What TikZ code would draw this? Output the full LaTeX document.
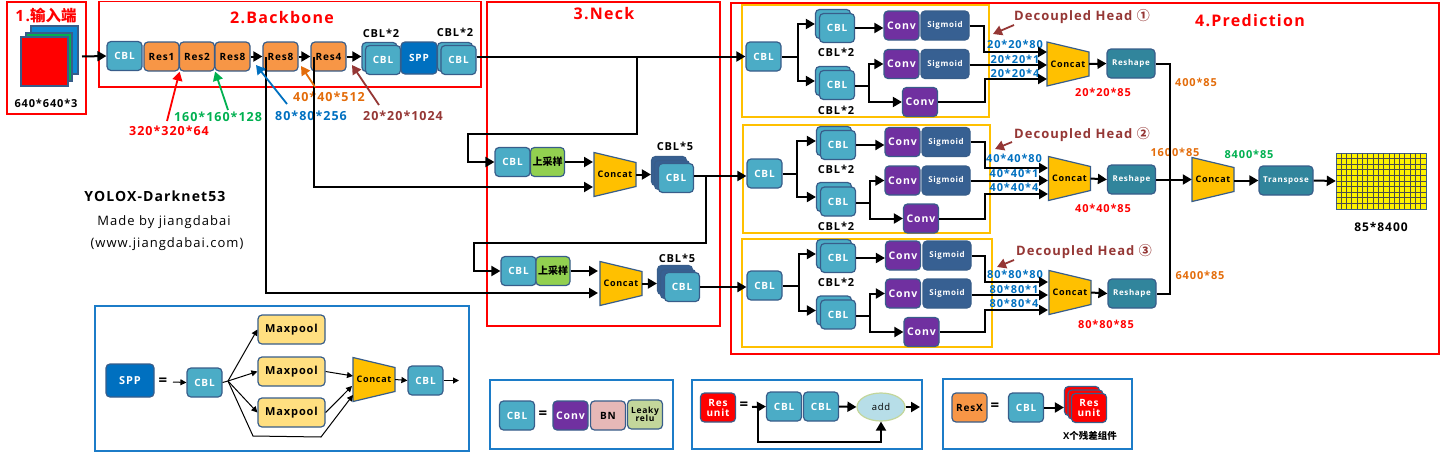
\documentclass[tikz,border=0pt]{standalone}
\usepackage{fontspec}
\setmainfont{Open Sans}[LetterSpace=8]
\newfontfamily\cjk{Noto Sans CJK SC}
\usetikzlibrary{shapes,arrows.meta}
\definecolor{edge}{HTML}{385D8A}
\definecolor{cblblue}{HTML}{4BACC6}
\definecolor{resorange}{HTML}{F79646}
\definecolor{sppblue}{HTML}{0070C0}
\definecolor{convpurple}{HTML}{7030A0}
\definecolor{sigblue}{HTML}{376092}
\definecolor{shapeteal}{HTML}{31859C}
\definecolor{upgreen}{HTML}{92D050}
\definecolor{concatgold}{HTML}{FFC000}
\definecolor{poolyellow}{HTML}{FFDF80}
\definecolor{bnpink}{HTML}{E6B8B7}
\definecolor{leakygreen}{HTML}{C3D69B}
\definecolor{addblue}{HTML}{B7DEE8}
\definecolor{brownred}{HTML}{953735}
\definecolor{tagorange}{HTML}{E36C0A}
\definecolor{taggreen}{HTML}{00B050}
\definecolor{frameblue}{HTML}{1C7CC8}
\newcommand{\sz}[1]{\bfseries\fontsize{#1}{#1}\selectfont}
\tikzstyle{block} = [rectangle, draw=edge, line width=1.2pt, rounded corners=4pt, minimum width=35pt,
    minimum height=29pt, inner sep=0pt, align=center, font=\sz{10}]
\tikzstyle{cbl} = [block, fill=cblblue, text=white]
\tikzstyle{res} = [block, fill=resorange]
\tikzstyle{conv} = [block, fill=convpurple, text=white, font=\sz{10.5}]
\tikzstyle{sigmoid} = [block, fill=sigblue, text=white, minimum width=48pt, font=\sz{8}]
\tikzstyle{reshape} = [block, fill=shapeteal, text=white, minimum width=48pt, font=\sz{8}]
\tikzstyle{upsample} = [block, fill=upgreen, minimum width=34pt, font=\sz{10}\cjk]
\tikzstyle{maxpool} = [block, fill=poolyellow, minimum width=67pt, font=\sz{11}]
\tikzstyle{square} = [rectangle, draw=edge, line width=1.2pt, inner sep=0pt]
\tikzstyle{concat} = [rectangle, minimum width=42pt, minimum height=44pt, inner sep=0pt, font=\sz{9}]
\tikzstyle{note} = [inner sep=0pt, font=\sz{11}]
\tikzstyle{bignote} = [inner sep=0pt, font=\sz{12.5}]
\tikzstyle{title} = [inner sep=0pt, text=red, font=\sz{16}]
\tikzstyle{head} = [inner sep=0pt, text=brownred, font=\sz{13}]
\tikzstyle{line} = [draw, line width=2pt, >={Triangle[length=9pt,width=10pt]}]
\tikzstyle{thinline} = [draw, line width=1pt, >={Triangle[length=6pt,width=6pt]}]
\tikzstyle{tag} = [draw, line width=1.8pt, >={Triangle[length=9pt,width=10pt]}]
\tikzstyle{redframe} = [draw=red, line width=1.6pt]
\tikzstyle{goldframe} = [draw=concatgold, line width=1.6pt]
\tikzstyle{blueframe} = [draw=frameblue, line width=1.6pt]
% Concat body with its node on top
\newcommand{\concatat}[2]{
    \path [fill=concatgold, draw=edge, line width=1.2pt] (#1) ++(-21,-22) -- ++(42,10) -- ++(0,24) -- ++(-42,10) -- cycle;
    \node [concat] at (#1) (#2) {Concat};
}
\begin{document}
\begin{tikzpicture}[x=1pt, y=-1pt]
    \useasboundingbox (0,0) rectangle (1440,458);
    % Frames
    \draw [redframe] (7,2) rectangle (86,114);
    \draw [redframe] (99,1.5) rectangle (481,87);
    \draw [redframe] (487,2) rectangle (720,326);
    \draw [redframe] (731,3) rectangle (1439,354);
    \draw [goldframe] (742,5) rectangle (989,117);
    \draw [goldframe] (743,125) rectangle (990,233);
    \draw [goldframe] (742,239) rectangle (992,347);
    \draw [blueframe] (95,306) rectangle (469,451);
    \draw [blueframe] (490,380) rectangle (673,449);
    \draw [blueframe] (692,380) rectangle (922,449);
    \draw [blueframe] (943,379) rectangle (1132,449);
    % Input
    \node [square, fill=cyan!70!blue, minimum width=47pt, minimum height=48pt] at (54.5,50) (inBlue) {};
    \node [square, fill=taggreen, minimum width=46pt, minimum height=48pt] at (49,57) (inGreen) {};
    \node [square, fill=red, minimum width=47pt, minimum height=49pt] at (44.5,61.5) (inRed) {};
    \node [title, font=\sz{15.5}] at (46,16) (inTitle) {1.{\cjk 输入端}};
    \node [note] at (46,103) (inSize) {640*640*3};
    \coordinate (inOut) at (82,56.5);
    % Backbone
    \node [title] at (282,18) (bbTitle) {2.Backbone};
    \node [cbl] at (124.5,56) (bbCbl) {CBL};
    \node [res] at (161.5,56.5) (resA) {Res1};
    \node [res] at (197,56.5) (resB) {Res2};
    \node [res] at (232.5,56.5) (resC) {Res8};
    \node [res] at (280.5,56.5) (resD) {Res8};
    \node [res] at (328.5,56.5) (resE) {Res4};
    \node [cbl] at (379.5,57) (bbStackBack) {};
    \node [cbl] at (383,60) (bbStack) {CBL};
    \node [block, fill=sppblue, text=white, minimum width=36pt, minimum height=32pt] at (419,58) (bbSpp) {SPP};
    \node [cbl] at (455,57) (bbTailBack) {};
    \node [cbl] at (458.5,60) (bbTail) {CBL};
    \node [note] at (381,33) (bbStackLabel) {CBL*2};
    \node [note] at (455,32) (bbTailLabel) {CBL*2};
    \node [bignote, text=red] at (169,131) (size320) {320*320*64};
    \node [bignote, text=taggreen] at (218,117) (size160) {160*160*128};
    \node [bignote, text=sppblue] at (311,116) (size80) {80*80*256};
    \node [bignote, text=tagorange] at (329,97) (size40) {40*40*512};
    \node [bignote, text=brownred] at (403,116) (size20) {20*20*1024};
    \coordinate (tail320) at (167,121);
    \coordinate (tail160) at (228,110);
    \coordinate (tail80) at (287,104);
    \coordinate (tip80) at (256,65);
    \coordinate (tail40) at (315,87);
    \coordinate (tip40) at (301,66);
    \coordinate (tail20) at (379,105);
    \coordinate (tip20) at (352,65);
    \coordinate (skipA) at (266,57);
    \coordinate (skipB) at (314,57);
    % Neck
    \node [title] at (604,14) (neckTitle) {3.Neck};
    \node [cbl] at (512.5,162) (neckCblA) {CBL};
    \node [upsample] at (547.5,162) (neckUpA) {上采样};
    \concatat{615,174.5}{neckConcatA}
    \node [cbl, fill=sigblue] at (669,171) (neckStackAback) {};
    \node [cbl, fill=sigblue] at (672,175) (neckStackAmid) {};
    \node [cbl] at (676,178) (neckStackA) {CBL};
    \node [note] at (675,146) (neckStackAlabel) {CBL*5};
    \node [cbl] at (518.5,271) (neckCblB) {CBL};
    \node [upsample] at (553,271) (neckUpB) {上采样};
    \concatat{621,283.5}{neckConcatB}
    \node [cbl, fill=sigblue] at (675,280) (neckStackBback) {};
    \node [cbl, fill=sigblue] at (678,284) (neckStackBmid) {};
    \node [cbl] at (682,287) (neckStackB) {CBL};
    \node [note] at (677,258) (neckStackBlabel) {CBL*5};
    \coordinate (upA) at (637,57);
    \coordinate (upB) at (468,134);
    \coordinate (upC) at (706,176);
    \coordinate (upD) at (474,243);
    \coordinate (inA) at (593,187);
    \coordinate (inB) at (598,293);
    % Head one
    \node [cbl] at (763.5,56.5) (aCbl) {CBL};
    \node [cbl] at (833,24) (aTopBack) {};
    \node [cbl] at (837,28) (aTop) {CBL};
    \node [cbl] at (833,81) (aLowBack) {};
    \node [cbl] at (837,85) (aLow) {CBL};
    \node [note] at (836,52) (aTopLabel) {CBL*2};
    \node [note] at (836,110) (aLowLabel) {CBL*2};
    \node [conv] at (901.5,25.5) (aConvA) {Conv};
    \node [sigmoid] at (945,25.5) (aSigA) {Sigmoid};
    \node [conv] at (901.5,64) (aConvB) {Conv};
    \node [sigmoid] at (945,64) (aSigB) {Sigmoid};
    \node [conv] at (920,102) (aConvC) {Conv};
    \concatat{1068,64}{aConcat}
    \node [reshape] at (1131,63.5) (aShape) {Reshape};
    \node [head] at (1082,17) (aHead) {Decoupled Head {\cjk ①}};
    \node [note, text=sppblue] at (1015,44) (aSizeA) {20*20*80};
    \node [note, text=sppblue] at (1015,59) (aSizeB) {20*20*1};
    \node [note, text=sppblue] at (1015,73) (aSizeC) {20*20*4};
    \node [note, text=red] at (1103,92) (aSize) {20*20*85};
    \coordinate (aFork) at (798,56.5);
    \coordinate (aSplit) at (869,86);
    \coordinate (aBendA) at (984,25.5);
    \coordinate (aBendC) at (985,102);
    \coordinate (aInA) at (1047,52);
    \coordinate (aInB) at (1047,65);
    \coordinate (aInC) at (1047,79);
    \coordinate (aTail) at (1014,25);
    \coordinate (aTip) at (993,34);
    % Head two
    \node [cbl] at (764.5,173.5) (bCbl) {CBL};
    \node [cbl] at (834,141) (bTopBack) {};
    \node [cbl] at (838,145) (bTop) {CBL};
    \node [cbl] at (834,197) (bLowBack) {};
    \node [cbl] at (838,201.5) (bLow) {CBL};
    \node [note] at (836,169) (bTopLabel) {CBL*2};
    \node [note] at (836,226) (bLowLabel) {CBL*2};
    \node [conv] at (902.5,142) (bConvA) {Conv};
    \node [sigmoid] at (946,142) (bSigA) {Sigmoid};
    \node [conv] at (902.5,180.5) (bConvB) {Conv};
    \node [sigmoid] at (946,180.5) (bSigB) {Sigmoid};
    \node [conv] at (921,218.5) (bConvC) {Conv};
    \concatat{1069.5,178.5}{bConcat}
    \node [reshape] at (1131.5,179.5) (bShape) {Reshape};
    \node [head] at (1082,135) (bHead) {Decoupled Head {\cjk ②}};
    \node [note, text=sppblue] at (1014,158) (bSizeA) {40*40*80};
    \node [note, text=sppblue] at (1014,173) (bSizeB) {40*40*1};
    \node [note, text=sppblue] at (1014,187) (bSizeC) {40*40*4};
    \node [note, text=red] at (1103,208) (bSize) {40*40*85};
    \coordinate (bFork) at (797,173.5);
    \coordinate (bSplit) at (870,203);
    \coordinate (bBendA) at (985,142);
    \coordinate (bBendC) at (985,218.5);
    \coordinate (bInA) at (1048,168);
    \coordinate (bInB) at (1048,180.5);
    \coordinate (bInC) at (1048,194);
    \coordinate (bTail) at (1012,142);
    \coordinate (bTip) at (995,149);
    % Head three
    \node [cbl] at (764.5,285.5) (cCbl) {CBL};
    \node [cbl] at (834,254) (cTopBack) {};
    \node [cbl] at (838,258) (cTop) {CBL};
    \node [cbl] at (834,310.5) (cLowBack) {};
    \node [cbl] at (838,314.5) (cLow) {CBL};
    \node [note] at (836,282) (cTopLabel) {CBL*2};
    \node [conv] at (903,255.5) (cConvA) {Conv};
    \node [sigmoid] at (947,255.5) (cSigA) {Sigmoid};
    \node [conv] at (903,293.5) (cConvB) {Conv};
    \node [sigmoid] at (947,293.5) (cSigB) {Sigmoid};
    \node [conv] at (921.5,332) (cConvC) {Conv};
    \concatat{1070,292.5}{cConcat}
    \node [reshape] at (1132,293.5) (cShape) {Reshape};
    \node [head] at (1084,251) (cHead) {Decoupled Head {\cjk ③}};
    \node [note, text=sppblue] at (1015,274) (cSizeA) {80*80*80};
    \node [note, text=sppblue] at (1014,289) (cSizeB) {80*80*1};
    \node [note, text=sppblue] at (1014,303) (cSizeC) {80*80*4};
    \node [note, text=red] at (1106,324) (cSize) {80*80*85};
    \coordinate (cFork) at (799,285.5);
    \coordinate (cSplit) at (870,316);
    \coordinate (cBendA) at (985,255.5);
    \coordinate (cBendC) at (985,332);
    \coordinate (cInA) at (1048,282);
    \coordinate (cInB) at (1048,295);
    \coordinate (cInC) at (1048,310);
    \coordinate (cTail) at (1014,260);
    \coordinate (cTip) at (997,267);
    % Prediction
    \node [title] at (1250,21) (predTitle) {4.Prediction};
    \concatat{1213,179.5}{predConcat}
    \node [block, fill=shapeteal, text=white, minimum width=54pt, font=\sz{8}] at (1286,180.5) (predTurn) {Transpose};
    \node [rectangle, draw=edge, fill=yellow, inner sep=0pt, minimum width=90pt, minimum height=56pt] at (1381,181) (predGrid) {};
    \foreach \i in {1,...,16}
        \draw [black!70, line width=1pt] (1336+5.3*\i,153) -- (1336+5.3*\i,209);
    \foreach \i in {1,...,9}
        \draw [black!70, line width=1pt] (1336,153+5.6*\i) -- (1426,153+5.6*\i);
    \node [note, font=\sz{12}] at (1381,227) (predSize) {85*8400};
    \node [note, text=tagorange] at (1196,82) (predA) {400*85};
    \node [note, text=tagorange] at (1175,152) (predB) {1600*85};
    \node [note, text=taggreen] at (1249,154) (predC) {8400*85};
    \node [note, text=tagorange] at (1200,275) (predD) {6400*85};
    \coordinate (predRail) at (1170,64);
    \coordinate (predFoot) at (1170,293.5);
    % Caption
    \node [inner sep=0pt, font=\sz{14}] at (155,196) (capName) {YOLOX-Darknet53};
    \node [inner sep=0pt, font=\fontsize{13}{13}\selectfont] at (164,222) (capAuthor) {Made by jiangdabai};
    \node [inner sep=0pt, font=\fontsize{13}{13}\selectfont] at (167,244) (capSite) {(www.jiangdabai.com)};
    % SPP legend
    \node [block, fill=sppblue, text=white, minimum width=48pt, minimum height=33pt, font=\sz{11}] at (130,380.5) (sppName) {SPP};
    \node [inner sep=0pt, font=\sz{15}] at (163,382) (sppEq) {=};
    \node [cbl] at (204.5,382.5) (sppCbl) {CBL};
    \node [maxpool] at (291.5,329.5) (poolA) {Maxpool};
    \node [maxpool] at (291.5,371.5) (poolB) {Maxpool};
    \node [maxpool] at (291.5,412.5) (poolC) {Maxpool};
    \concatat{374,379.5}{sppConcat}
    \node [cbl] at (425.5,380.5) (sppOut) {CBL};
    \coordinate (sppIn) at (173,382);
    \coordinate (sppFan) at (228,381);
    \coordinate (sppLowA) at (253,436);
    \coordinate (sppLowB) at (321,437);
    \coordinate (sppInA) at (353,376);
    \coordinate (sppInB) at (352,386);
    \coordinate (sppInC) at (353,395);
    \coordinate (sppEnd) at (459,380.5);
    % CBL legend
    \node [cbl] at (517,415.5) (cblName) {CBL};
    \node [inner sep=0pt, font=\sz{15}] at (543,415) (cblEq) {=};
    \node [conv] at (570.5,415.5) (cblConv) {Conv};
    \node [block, fill=bnpink] at (608,415.5) (cblBn) {BN};
    \node [block, fill=leakygreen, font=\sz{8.5}] at (645,414.5) (cblLeaky) {Leaky\\relu};
    % Res unit legend
    \node [block, fill=red, text=white] at (718,407.5) (unitName) {Res\\unit};
    \node [inner sep=0pt, font=\sz{15}] at (744,406) (unitEq) {=};
    \node [cbl] at (784,406.5) (unitCblA) {CBL};
    \node [cbl] at (821,406.5) (unitCblB) {CBL};
    \node [ellipse, draw=leakygreen, line width=1.2pt, fill=addblue, minimum width=48pt, minimum height=28pt, inner sep=0pt, font=\fontsize{9.5}{10}\selectfont] at (881,407) (unitAdd) {add};
    \coordinate (unitIn) at (752,407);
    \coordinate (unitTap) at (758,407);
    \coordinate (unitEnd) at (920,407);
    \coordinate (unitLow) at (758,442);
    % ResX legend
    \node [res] at (969.5,407.5) (resxName) {ResX};
    \node [inner sep=0pt, font=\sz{15}] at (995,407) (resxEq) {=};
    \node [cbl] at (1026,407.5) (resxCbl) {CBL};
    \node [block, fill=red] at (1082,401) (resxBack) {};
    \node [block, fill=red] at (1085.5,404.5) (resxMid) {};
    \node [block, fill=red, text=white] at (1089,408) (resxUnit) {Res\\unit};
    \node [inner sep=0pt, font=\sz{9.5}] at (1090,436) (resxCount) {X{\cjk 个残差组件}};
    % Draw edges
    \path [line, ->] (inOut) -- (bbCbl.west);
    \path [line, ->] (resC.east) -- (resD.west);
    \path [line, ->] (resD.east) -- (resE.west);
    \path [line, ->] (resE.east) -- (resE.east -| bbStackBack.west);
    \path [line, ->] (bbTail.east |- aCbl.west) -- (aCbl.west);
    \path [line, ->] (upA) |- (upB) |- (neckCblA.west);
    \path [line, ->] (skipA) |- (inB);
    \path [line, ->] (skipB) |- (inA);
    \path [line, ->] (neckUpA.east) -- (neckUpA.east -| inA);
    \path [line, ->] (neckConcatA.east) -- (neckConcatA.east -| neckStackAback.west);
    \path [line, ->] (neckStackA.east |- upC) -- (upC -| bCbl.west);
    \path [line, ->] (upC) |- (upD) |- (neckCblB.west);
    \path [line, ->] (neckUpB.east) -- (neckUpB.east -| inB);
    \path [line, ->] (neckConcatB.east) -- (neckConcatB.east -| neckStackBback.west);
    \path [line, ->] (neckStackB.east) -- (neckStackB.east -| cCbl.west);
    % Head one edges
    \path [line] (aCbl.east) -- (aFork);
    \path [line, ->] (aFork) |- (aTopBack.west);
    \path [line, ->] (aFork) |- (aLowBack.west);
    \path [line, ->] (aTop.east) -- (aConvA.west |- aTop.east);
    \path [line] (aLow.east |- aSplit) -- (aSplit);
    \path [line, ->] (aSplit) |- (aConvB.west);
    \path [line, ->] (aSplit) |- (aConvC.west);
    \path [line, ->] (aSigA.east) -- (aBendA) |- (aInA);
    \path [line, ->] (aSigB.east |- aInB) -- (aInB);
    \path [line, ->] (aConvC.east) -- (aBendC) |- (aInC);
    \path [line, ->] (aConcat.east) -- (aShape.west);
    \path [tag, draw=brownred, ->] (aTail) -- (aTip);
    % Head two edges
    \path [line] (bCbl.east) -- (bFork);
    \path [line, ->] (bFork) |- (bTopBack.west);
    \path [line, ->] (bFork) |- (bLowBack.west);
    \path [line, ->] (bTop.east) -- (bConvA.west |- bTop.east);
    \path [line] (bLow.east |- bSplit) -- (bSplit);
    \path [line, ->] (bSplit) |- (bConvB.west);
    \path [line, ->] (bSplit) |- (bConvC.west);
    \path [line, ->] (bSigA.east) -- (bBendA) |- (bInA);
    \path [line, ->] (bSigB.east) -- (bInB);
    \path [line, ->] (bConvC.east) -- (bBendC) |- (bInC);
    \path [line, ->] (bConcat.east) -- (bShape.west);
    \path [tag, draw=brownred, ->] (bTail) -- (bTip);
    % Head three edges
    \path [line] (cCbl.east) -- (cFork);
    \path [line, ->] (cFork) |- (cTopBack.west);
    \path [line, ->] (cFork) |- (cLowBack.west);
    \path [line, ->] (cTop.east) -- (cConvA.west |- cTop.east);
    \path [line] (cLow.east |- cSplit) -- (cSplit);
    \path [line, ->] (cSplit) |- (cConvB.west);
    \path [line, ->] (cSplit) |- (cConvC.west);
    \path [line, ->] (cSigA.east) -- (cBendA) |- (cInA);
    \path [line, ->] (cSigB.east |- cInB) -- (cInB);
    \path [line, ->] (cConvC.east) -- (cBendC) |- (cInC);
    \path [line, ->] (cConcat.east) -- (cShape.west);
    \path [tag, draw=brownred, ->] (cTail) -- (cTip);
    % Prediction edges
    \path [line] (aShape.east |- predRail) -- (predRail) -- (predFoot) -- (predFoot -| cShape.east);
    \path [line, ->] (bShape.east) -- (predConcat.west);
    \path [line, ->] (predConcat.east |- predTurn.west) -- (predTurn.west);
    \path [line, ->] (predTurn.east) -- (predGrid.west);
    % Size tags
    \path [tag, draw=red, ->] (tail320) -- (resA.south east);
    \path [tag, draw=taggreen, ->] (tail160) -- (resB.south east);
    \path [tag, draw=sppblue, ->] (tail80) -- (tip80);
    \path [tag, draw=tagorange, ->] (tail40) -- (tip40);
    \path [tag, draw=brownred, ->] (tail20) -- (tip20);
    % Legend edges
    \path [thinline, ->] (sppIn) -- (sppCbl.west);
    \path [thinline] (sppCbl.east) -- (sppFan);
    \path [thinline, ->] (sppFan) -- (poolA.west);
    \path [thinline, ->] (sppFan) -- (poolB.west);
    \path [thinline, ->] (sppFan) -- (poolC.west);
    \path [thinline, ->] (sppFan) -- (sppLowA) -- (sppLowB) -- (sppInC);
    \path [thinline, ->] (poolB.east) -- (sppInA);
    \path [thinline, ->] (poolC.east) -- (sppInB);
    \path [thinline, ->] (sppConcat.east) -- (sppOut.west);
    \path [thinline, ->] (sppOut.east) -- (sppEnd);
    \path [line, ->] (unitIn) -- (unitCblA.west);
    \path [line, ->] (unitCblB.east) -- (unitAdd.west);
    \path [line, ->] (unitAdd.east) -- (unitEnd);
    \path [line, ->] (unitTap) -- (unitLow) -| (unitAdd.south);
    \path [line, ->] (resxCbl.east) -- (resxCbl.east -| resxBack.west);
\end{tikzpicture}
\end{document}
